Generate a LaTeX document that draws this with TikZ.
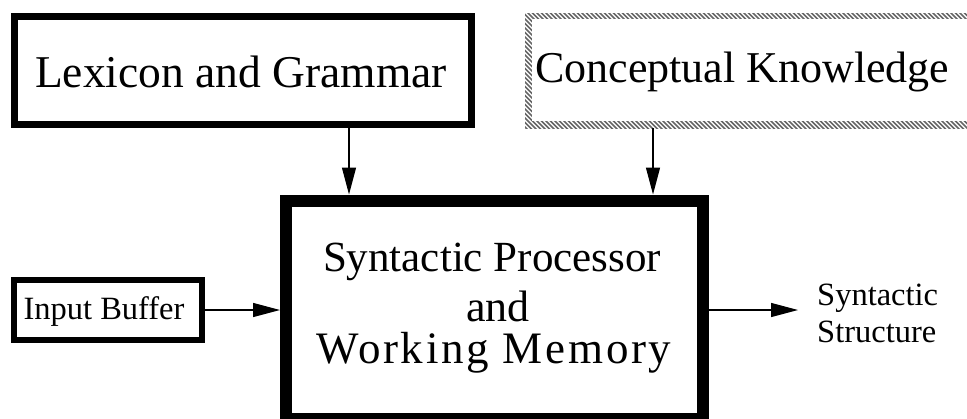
\documentclass[tikz,border=0pt]{standalone}
\usepackage{fontspec}
\setmainfont{Liberation Serif}
\usetikzlibrary{arrows.meta}
\begin{document}
\begin{tikzpicture}[x=1pt,y=-1pt,
  frame/.style={rectangle, draw=black, inner sep=0pt},
  bigtext/.style={font=\fontsize{45.5}{48}\selectfont},
  smalltext/.style={font=\fontsize{32.5}{37}\selectfont},
  arr/.style={line width=1.3pt, -{Triangle[length=27pt,width=14pt]}},
  hatch/.style={draw=black!60, line width=1.6pt},
]
\useasboundingbox (0,0) rectangle (967,418);

% knowledge sources
\node[frame, line width=7pt, outer sep=3.5pt,
      minimum width=457pt, minimum height=108pt] (lex) at (243,70.5) {};
\node[bigtext, inner sep=0pt] (lextext) at (241,72) {Lexicon and Grammar};
\node[rectangle, inner sep=0pt, outer sep=0pt,
      minimum width=450pt, minimum height=115pt] (concept) at (750,70.5) {};

% hatched border of the conceptual knowledge box
\begin{scope}
  \clip (concept.north west) rectangle (concept.south east);
  \foreach \x in {380,384.5,...,1000}
    \draw[hatch] (\x,0) -- (\x+140,140);
\end{scope}
\fill[white] ([shift={(7,6)}]concept.north west) rectangle ([shift={(-7,-7)}]concept.south east);
\node[font=\fontsize{44}{48}\selectfont, anchor=west, inner sep=0pt] (concepttext) at (535,72)
  {Conceptual Knowledge};

% central processor
\node[frame, line width=12pt, outer sep=6pt,
      minimum width=416.5pt, minimum height=218.5pt] (proc) at (494.25,309.75) {};
\node[font=\fontsize{43}{44}\selectfont, inner sep=0pt] (procline1) at (492,262)
  {Syntactic Processor};
\node[font=\fontsize{44}{44}\selectfont, inner sep=0pt] (procline2) at (498,306) {and};
\node[font=\fontsize{45}{44}\selectfont\addfontfeatures{LetterSpace=6}, inner sep=0pt]
  (procline3) at (494,353) {Working Memory};

% input and output
\node[frame, line width=6pt, outer sep=3pt,
      minimum width=188pt, minimum height=60pt] (input) at (108,310) {};
\node[smalltext, inner sep=0pt] (inputtext) at (104,312) {Input Buffer};
\node[smalltext, align=left, anchor=west, inner xsep=19pt, inner ysep=0pt] (out) at (798,313)
  {Syntactic\\Structure};

% connectors
\draw[arr] (lex.south -| 349,0) -- (proc.north -| 349,0);
\draw[arr] (concept.south -| 653,0) -- (proc.north -| 653,0);
\draw[arr] (input.east) -- (proc.west |- input.east);
\draw[arr] (proc.east |- 0,310) -- (out.west |- 0,310);
\end{tikzpicture}
\end{document}
